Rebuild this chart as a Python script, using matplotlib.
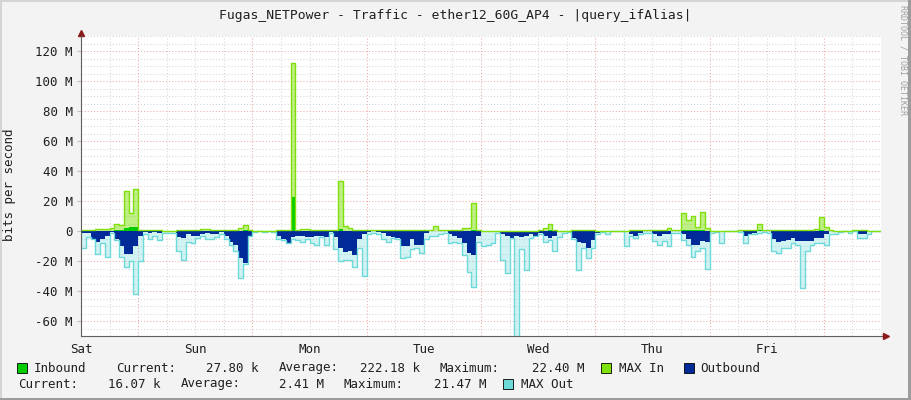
import matplotlib
matplotlib.use("Agg")
import matplotlib.pyplot as plt
import numpy as np
from matplotlib.patches import Rectangle

# hourly samples over one week, in Mbit/s (outbound stored as magnitude, drawn negative)
day_names = ["Sat", "Sun", "Mon", "Tue", "Wed", "Thu", "Fri"]

max_in = [
    0.5, 0.5, 1, 1.5, 1.5, 1.5, 2, 4.5, 4, 27, 12, 28, 1, 1, 0.5, 0.5, 0.5, 0.3, 0.3, 0.3, 1, 1, 0.8, 0.5,
    0.5, 1.5, 1.5, 1, 0.8, 0.5, 0.8, 1, 1, 2, 4, 1, 0.3, 0.3, 0.3, 0.3, 0.3, 0.5, 0.5, 0.8, 112, 1, 1.5, 1.5,
    1, 1, 1, 1, 0.5, 0.5, 33.5, 3.4, 2.2, 1, 0.5, 0.5, 0.5, 0.5, 0.5, 0.5, 0.5, 0.5, 1, 1, 1, 0.8, 0.8, 0.5,
    0.5, 0.8, 3.3, 0.5, 0.5, 0.5, 0.8, 1, 1.8, 2, 19, 1, 0.3, 0.3, 0.3, 0.3, 0.3, 0.3, 0.3, 0.3, 0.3, 0.3, 0.3, 0.3,
    0.8, 2, 4.5, 0.5, 0.3, 0.3, 0.3, 0.5, 0.5, 0.5, 0.5, 0.5, 0.3, 0.3, 0.3, 0.3, 0.3, 0.3, 0.3, 0.5, 1, 1, 0.5, 0.5,
    0.5, 1, 1, 2, 1, 0.5, 12, 7.5, 10, 3, 12.7, 2, 0.3, 0.3, 0.3, 0.3, 0.3, 0.3, 0.5, 0.5, 0.5, 0.5, 4.5, 1,
    0.5, 0.5, 0.5, 0.5, 0.5, 0.5, 0.5, 1, 1, 1, 1.5, 9.5, 3, 0.5, 0.3, 0.3, 0.3, 0.3, 0.5, 0.5, 0.5, 0.3, 0.3, 0.3,
]

inbound = [
    0.1, 0.1, 0.2, 0.3, 0.3, 0.3, 0.3, 0.5, 0.5, 2, 2.5, 3, 0.2, 0.1, 0.1, 0.1, 0.1, 0.1, 0.1, 0.1, 0.1, 0.1, 0.1, 0.1,
    0.1, 0.2, 0.2, 0.1, 0.1, 0.1, 0.1, 0.1, 0.1, 0.2, 0.5, 0.1, 0.1, 0.1, 0.1, 0.1, 0.1, 0.1, 0.1, 0.1, 22.4, 0.1, 0.2, 0.2,
    0.1, 0.1, 0.1, 0.1, 0.1, 0.1, 1.5, 0.3, 0.2, 0.1, 0.1, 0.1, 0.1, 0.1, 0.1, 0.1, 0.1, 0.1, 0.1, 0.1, 0.1, 0.1, 0.1, 0.1,
    0.1, 0.1, 0.3, 0.1, 0.1, 0.1, 0.1, 0.1, 0.2, 0.2, 1, 0.1, 0.1, 0.1, 0.1, 0.1, 0.1, 0.1, 0.1, 0.1, 0.1, 0.1, 0.1, 0.1,
    0.1, 0.2, 0.4, 0.1, 0.1, 0.1, 0.1, 0.1, 0.1, 0.1, 0.1, 0.1, 0.1, 0.1, 0.1, 0.1, 0.1, 0.1, 0.1, 0.1, 0.1, 0.1, 0.1, 0.1,
    0.1, 0.1, 0.1, 0.2, 0.1, 0.1, 1, 0.8, 1, 0.5, 1, 0.3, 0.1, 0.1, 0.1, 0.1, 0.1, 0.1, 0.1, 0.1, 0.1, 0.1, 0.4, 0.1,
    0.1, 0.1, 0.1, 0.1, 0.1, 0.1, 0.1, 0.1, 0.1, 0.1, 0.2, 1, 0.3, 0.1, 0.1, 0.1, 0.1, 0.1, 0.1, 0.1, 0.1, 0.1, 0.1, 0.03,
]

max_out = [
    11, 4, 5, 15.5, 8, 17, 1.5, 6, 17, 24, 20, 42, 20, 2, 5, 3, 6, 1, 1, 1, 13, 19, 7, 8,
    4.5, 3, 5, 5, 4, 2, 5, 9, 13, 31, 22, 3, 0.5, 0.3, 0.5, 0.3, 0.5, 5, 6, 8, 5, 6, 7, 5,
    8, 9, 4, 9, 1.5, 12, 20, 19, 19, 24, 11, 30, 2, 1.5, 2, 5, 7, 4.5, 5, 18, 17, 12, 11, 14.5,
    5.5, 3.5, 3, 2, 1, 8, 7, 8, 16, 27, 37, 7, 10, 9, 8, 1.5, 19, 28, 4.5, 72, 12, 26, 4.5, 3,
    2, 7, 6, 13, 4, 1, 0.5, 5, 26, 11, 18, 11, 2, 0.5, 2, 0.3, 0.2, 0.2, 10, 3, 4.5, 2, 1, 1,
    6.7, 9, 6.7, 10, 1, 1, 6, 9, 17, 13.4, 11, 25, 1, 0.5, 8, 0.3, 0.2, 0.2, 0.5, 7.8, 2, 2, 1, 0.5,
    1, 13, 14.5, 11, 11, 8, 9, 38, 13.4, 9, 8, 8, 9, 2, 2, 0.5, 0.3, 1.5, 0.3, 4.5, 4.5, 2, 0.3, 0.3,
]

outbound = [
    1, 1.5, 6, 7, 5, 3, 0.5, 5, 10, 15, 15, 10, 3, 0.5, 1, 0.5, 1, 0.3, 0.3, 0.3, 4, 4.5, 2, 3,
    3, 2, 1, 2, 2, 0.5, 3, 7, 9, 18, 21.5, 3, 0.2, 0.2, 0.2, 0.2, 0.3, 3, 5, 8, 4, 3, 3, 4,
    4, 3, 3, 4, 0.5, 4, 11, 14, 13, 16, 5, 2, 0.5, 0.3, 0.5, 1, 3.5, 4, 4.5, 10, 10, 5.6, 9, 9,
    1, 0.3, 0.3, 0.3, 0.3, 2, 3, 4.5, 8, 14.5, 15.7, 3, 0.3, 0.5, 0.5, 0.3, 2, 3, 4.5, 3, 4, 3, 2, 3,
    1, 3, 4.5, 3, 0.3, 0.2, 0.2, 4.5, 7, 8, 11, 6, 1, 0.2, 0.2, 0.2, 0.2, 0.2, 0.5, 2, 3.4, 1, 0.3, 0.3,
    2, 3.4, 2, 2, 0.3, 0.3, 2, 5.6, 9, 9, 6.7, 7, 0.3, 0.2, 0.3, 0.2, 0.2, 0.2, 0.2, 3.4, 1.8, 1, 0.3, 0.2,
    0.3, 5.6, 7.2, 6.7, 6.3, 4.5, 6.7, 6.7, 6.7, 6.7, 4.5, 4.5, 2.2, 0.3, 0.2, 0.2, 0.2, 0.2, 0.2, 2, 2.2, 0.3, 0.2, 0.016,
]

in_stats = ["27.80 k", "222.18 k", "22.40 M"]
out_stats = ["16.07 k", "2.41 M", "21.47 M"]

C_IN = "#00CC00"
C_MAXIN = "#7FE00A"
C_OUT = "#002A97"
C_MAXOUT = "#6DD9D9"
FONT = "DejaVu Sans Mono"
plt.rcParams["font.family"] = FONT

W, H = 911, 400
fig = plt.figure(figsize=(W / 100, H / 100), dpi=100, facecolor="#F3F3F3")
ax = fig.add_axes([81 / W, 64 / H, 800 / W, 300 / H])
ax.set_facecolor("white")
ax.set_xlim(0, 168)
ax.set_ylim(-70, 130)

# grid: gray every 6 h / 5 M, red at noon / every 20 M
for h in range(6, 168, 6):
    col = "#F0A8A8" if h % 24 == 12 else "#D6D6D6"
    ax.axvline(h, color=col, lw=0.75, ls=(0, (1, 2)), zorder=0)
for v in range(-65, 131, 5):
    col = "#F0A8A8" if v % 20 == 0 else "#D6D6D6"
    ax.axhline(v, color=col, lw=0.75, ls=(0, (1, 2)), zorder=0)


def ext(vals):
    a = np.asarray(vals, dtype=float)
    return np.append(a, a[-1])


x = np.arange(len(max_in) + 1)
ax.fill_between(x, 0, ext(max_in), step="post", color=C_MAXIN, alpha=0.5, lw=0, zorder=2)
ax.fill_between(x, 0, -ext(max_out), step="post", color=C_MAXOUT, alpha=0.3, lw=0, zorder=2)
ax.fill_between(x, 0, ext(inbound), step="post", color=C_IN, lw=0, zorder=3)
ax.fill_between(x, 0, -ext(outbound), step="post", color=C_OUT, lw=0, zorder=3)
ax.step(x, -ext(max_out), where="post", color=C_MAXOUT, lw=1.0, zorder=4)
ax.step(x, ext(max_in), where="post", color=C_MAXIN, lw=1.0, zorder=5)

for s in ["top", "right"]:
    ax.spines[s].set_visible(False)
for s in ["left", "bottom"]:
    ax.spines[s].set_color("#606060")
    ax.spines[s].set_linewidth(0.8)
    ax.spines[s].set_zorder(6)

# axis arrows
ax.plot([1.0, 1.004], [0, 0], transform=ax.transAxes, color="#606060", lw=0.8, clip_on=False)
ax.plot(1.006, 0, marker=">", ms=4, color="#8B1A1A", transform=ax.transAxes, clip_on=False)
ax.plot(0, 1.01, marker="^", ms=4, color="#8B1A1A", transform=ax.transAxes, clip_on=False)

yt = list(range(-60, 121, 20))
ax.set_yticks(yt)
ax.set_yticklabels(["0" if v == 0 else f"{v} M" for v in yt])
ax.set_xticks(range(0, 168, 24))
ax.set_xticklabels(day_names)
ax.tick_params(axis="y", length=3, color="#C0C0C0", pad=3, labelsize=9, labelcolor="#202020")
ax.tick_params(axis="x", length=0, pad=5, labelsize=9, labelcolor="#202020")

fig.text(455 / W, 1 - 15 / H, "Fugas_NETPower - Traffic - ether12_60G_AP4 - |query_ifAlias|",
         ha="center", va="center", fontsize=9.4, color="#202020")
fig.text(10 / W, 1 - 185 / H, "bits per second", rotation=90, ha="center", va="center",
         fontsize=9, color="#202020")
fig.text(903 / W, 1 - 60 / H, "RRDTOOL / TOBI OETIKER", rotation=-90, ha="center", va="center",
         fontsize=6, color="#A0A0A0")


def swatch(px, py, col):
    fig.add_artist(Rectangle((px / W, 1 - (py + 5) / H), 10 / W, 10 / H, transform=fig.transFigure,
                             facecolor=col, edgecolor="black", lw=0.6))


def txt(px, py, s, ha="left"):
    fig.text(px / W, 1 - py / H, s, ha=ha, va="center", fontsize=9, color="#202020")


y1, y2 = 368, 384
swatch(17, y1, C_IN)
txt(34, y1, "Inbound")
txt(116, y1, "Current:")
txt(259, y1, in_stats[0], ha="right")
txt(279, y1, "Average:")
txt(420, y1, in_stats[1], ha="right")
txt(440, y1, "Maximum:")
txt(585, y1, in_stats[2], ha="right")
swatch(601, y1, C_MAXIN)
txt(619, y1, "MAX In")
swatch(684, y1, C_OUT)
txt(700, y1, "Outbound")

txt(18, y2, "Current:")
txt(160, y2, out_stats[0], ha="right")
txt(181, y2, "Average:")
txt(324, y2, out_stats[1], ha="right")
txt(343, y2, "Maximum:")
txt(486, y2, out_stats[2], ha="right")
swatch(503, y2, C_MAXOUT)
txt(521, y2, "MAX Out")

# 3d frame
fig.add_artist(Rectangle((0, 0), 1, 2 / H, transform=fig.transFigure, color="#9C9C9C", lw=0))
fig.add_artist(Rectangle((1 - 3 / W, 0), 3 / W, 1, transform=fig.transFigure, color="#9C9C9C", lw=0))
fig.add_artist(Rectangle((0, 1 - 2 / H), 1 - 3 / W, 2 / H, transform=fig.transFigure, color="#D4D4D4", lw=0))
fig.add_artist(Rectangle((0, 2 / H), 2 / W, 1, transform=fig.transFigure, color="#D4D4D4", lw=0))

fig.savefig("out.png", dpi=100, facecolor=fig.get_facecolor())
